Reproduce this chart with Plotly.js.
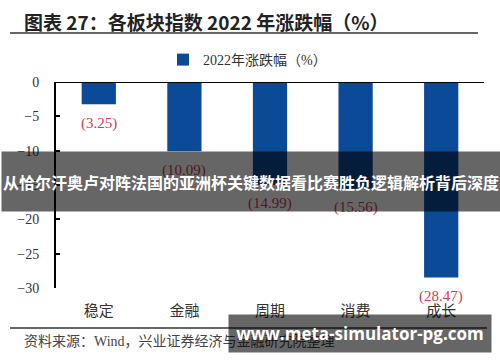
<!DOCTYPE html>
<html><head><meta charset="utf-8">
<script src="https://cdn.plot.ly/plotly-3.0.1.min.js"></script>
<style>html,body{margin:0;padding:0;background:#fff}#chart{width:500px;height:362px}</style>
</head><body><div id="chart"></div>
<script>
const categories = ['稳定', '金融', '周期', '消费', '成长'];
const values = [-3.25, -10.09, -14.99, -15.56, -28.47];
const seriesName = '2022年涨跌幅（%）';
const yTickVals = [0, -5, -10, -15, -20, -25, -30];
const titleText = '图表 27：各板块指数 2022 年涨跌幅（%）';
const sourceText = '资料来源：Wind，兴业证券经济与金融研究院整理';
const banner1Text = '从恰尔汗奥卢对阵法国的亚洲杯关键数据看比赛胜负逻辑解析背后深度';
const banner2Text = 'www.meta-simulator-pg.com';

const L = 56, R = 16, T = 82, B = 74, W = 500, H = 362;
const pw = W - L - R, ph = H - T - B;
const px = x => (x - L) / pw;
const py = y => (H - B - y) / ph;

const serif = '"Liberation Serif", "Times New Roman", "Noto Sans CJK SC", serif';
const cjk = '"Noto Sans CJK SC", sans-serif';

const labelAnns = categories.map((c, i) => ({
  x: c, y: values[i], xref: 'x', yref: 'y',
  text: '(' + Math.abs(values[i]).toFixed(2) + ')',
  showarrow: false, yshift: -19,
  font: {family: serif, size: 15, color: '#d2404f'}
}));

const trace = {
  type: 'bar', x: categories, y: values, name: seriesName,
  marker: {color: '#0b4a97'}, showlegend: true, hoverinfo: 'none'
};

const layout = {
  width: W, height: H,
  margin: {l: L, r: R, t: T, b: B, pad: 0},
  paper_bgcolor: '#fff', plot_bgcolor: '#fff',
  bargap: 0.6,
  showlegend: true,
  legend: {orientation: 'h', x: px(163), xanchor: 'left', y: py(60), yanchor: 'middle',
    font: {family: serif, size: 14, color: '#333'}, itemwidth: 30, bgcolor: 'rgba(0,0,0,0)'},
  xaxis: {showline: false, showgrid: false, zeroline: false, ticks: '',
    tickfont: {family: cjk, size: 15, color: '#333'}, ticklabelstandoff: 12, fixedrange: true},
  yaxis: {range: [-30, 0], tickvals: yTickVals, showgrid: false, zeroline: false,
    showline: true, linecolor: '#000', linewidth: 2,
    ticks: 'inside', ticklen: 4, tickwidth: 2, tickcolor: '#000',
    tickfont: {family: serif, size: 14, color: '#333'}, ticklabelstandoff: 12, fixedrange: true},
  shapes: [
    {type: 'line', xref: 'paper', yref: 'y', x0: 0, x1: 1, y0: 0, y1: 0, line: {color: '#000', width: 2}},
    {type: 'line', xref: 'paper', yref: 'paper', x0: px(10), x1: px(478), y0: py(33), y1: py(33), line: {color: '#333', width: 1.5}},
    {type: 'line', xref: 'paper', yref: 'paper', x0: px(10), x1: px(487), y0: py(328), y1: py(328), line: {color: '#333', width: 1.5}}
  ],
  annotations: labelAnns.concat([
    {xref: 'paper', yref: 'paper', x: px(22), y: py(22), xanchor: 'left', yanchor: 'middle', showarrow: false,
      text: '<b>' + titleText + '</b>', font: {family: cjk, size: 19, color: '#222'}},
    {xref: 'paper', yref: 'paper', x: px(22), y: py(341), xanchor: 'left', yanchor: 'middle', showarrow: false,
      text: sourceText, font: {family: serif, size: 14, color: '#444'}},
    {xref: 'paper', yref: 'paper', x: px(251), y: py(181.5), xanchor: 'center', yanchor: 'middle', showarrow: false,
      width: 498, height: 59, bgcolor: 'rgba(0,0,0,0.6)', borderpad: 0,
      text: '<b>' + banner1Text + '</b>', font: {family: cjk, size: 16, color: '#fff'}},
    {xref: 'paper', yref: 'paper', x: px(360), y: py(333.5), xanchor: 'center', yanchor: 'middle', showarrow: false,
      width: 262, height: 37, bgcolor: 'rgba(0,0,0,0.6)', borderpad: 0,
      text: '<b>' + banner2Text + '</b>', font: {family: '"Open Sans", sans-serif', size: 17, color: '#fff'}}
  ])
};

Plotly.newPlot('chart', [trace], layout, {staticPlot: true, displayModeBar: false});
</script></body></html>
